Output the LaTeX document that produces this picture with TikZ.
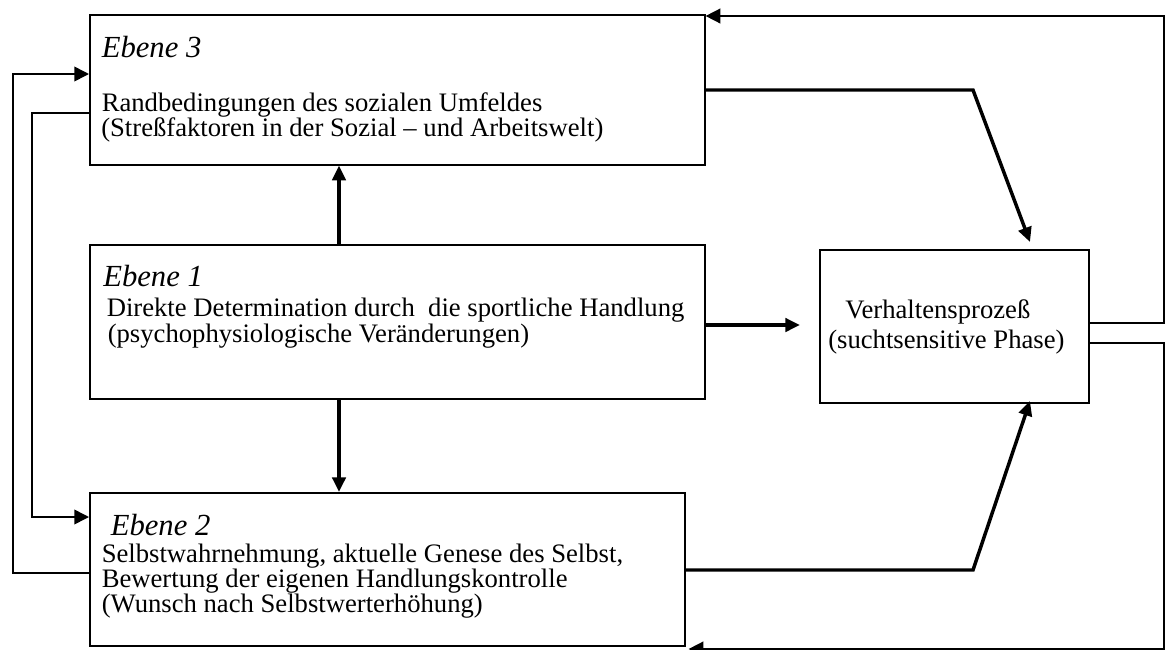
\documentclass[tikz,border=0pt]{standalone}
\usepackage{fontspec}
\setmainfont{Liberation Serif}
\usetikzlibrary{arrows.meta}
\tikzset{
  box/.style={draw=black, line width=1.2pt, rectangle, inner sep=0pt, anchor=north west},
  txt/.style={inner sep=0pt, anchor=base west, font=\fontsize{20}{24}\selectfont},
  lvl/.style={inner sep=0pt, anchor=base west, font=\fontsize{23}{27}\selectfont\itshape},
  thinline/.style={draw=black, line width=1.2pt, -{Triangle[length=11pt,width=11pt]}},
  heavy/.style={draw=black, line width=2.6pt, -{Triangle[length=11pt,width=10pt]}},
}
\begin{document}
\begin{tikzpicture}[x=0.75pt,y=-0.75pt]
\useasboundingbox (0,0) rectangle (1168,650);
% boxes
\node[box, minimum width=461.25pt, minimum height=112.5pt] (b3) at (89,14) {};
\node[box, minimum width=461.25pt, minimum height=115.5pt] (b1) at (89,244) {};
\node[box, minimum width=446.25pt, minimum height=114.75pt] (b2) at (89,492) {};
\node[box, minimum width=201.75pt, minimum height=114.75pt] (V) at (819,249) {};
% texts
\node[lvl] (e3) at (101.5,57.5) {Ebene 3};
\node[txt] (t3a) at (101.5,111) {Randbedingungen des sozialen Umfeldes};
\node[txt] (t3b) at (101,136.5) {(Streßfaktoren in der Sozial – und Arbeitswelt)};
\node[lvl] (e1) at (103,286.5) {Ebene 1};
\node[txt] (t1a) at (106.5,316.5) {Direkte Determination durch\ \ die sportliche Handlung};
\node[txt] (t1b) at (107.5,342.5) {(psychophysiologische Veränderungen)};
\node[lvl] (e2) at (110.5,535) {Ebene 2};
\node[txt] (t2a) at (101.5,562) {Selbstwahrnehmung, aktuelle Genese des Selbst,};
\node[txt] (t2b) at (101.5,587) {Bewertung der eigenen Handlungskontrolle};
\node[txt] (t2c) at (101.5,612) {(Wunsch nach Selbstwerterhöhung)};
\node[txt] (tva) at (845,318) {Verhaltensprozeß};
\node[txt] (tvb) at (828,348) {(suchtsensitive Phase)};
% helper coordinates
\coordinate (cx) at (339,0);
\coordinate (k3) at (973,90);
\coordinate (p3) at (1030,242);
\coordinate (k2) at (973,570);
\coordinate (p2) at (1030,401);
\coordinate (p1) at (800,325);
\coordinate (rx) at (1164,0);
\coordinate (lo) at (13,0);
\coordinate (li) at (32,0);
\coordinate (fy0) at (0,16);
\coordinate (fy1) at (0,323);
\coordinate (fy2) at (0,343);
\coordinate (fy3) at (0,649);
\coordinate (ly0) at (0,74);
\coordinate (ly1) at (0,573);
\coordinate (ly2) at (0,113);
\coordinate (ly3) at (0,517);
% connectors
\draw[heavy] (cx |- b1.north) -- (cx |- b3.south);
\draw[heavy] (cx |- b1.south) -- (cx |- b2.north);
\draw[heavy] (b1.east |- p1) -- (p1);
\draw[heavy] (b3.east |- k3) -- (k3) -- (p3);
\draw[heavy] (b2.east |- k2) -- (k2) -- (p2);
\draw[thinline] (V.east |- fy1) -- (rx |- fy1) -- (rx |- fy0) -- (b3.east |- fy0);
\draw[thinline] (V.east |- fy2) -- (rx |- fy2) -- (rx |- fy3) -- ([xshift=2.25pt]b2.east |- fy3);
\draw[thinline] (b2.west |- ly1) -- (lo |- ly1) -- (lo |- ly0) -- (b3.west |- ly0);
\draw[thinline] (b3.west |- ly2) -- (li |- ly2) -- (li |- ly3) -- (b2.west |- ly3);
\end{tikzpicture}
\end{document}
